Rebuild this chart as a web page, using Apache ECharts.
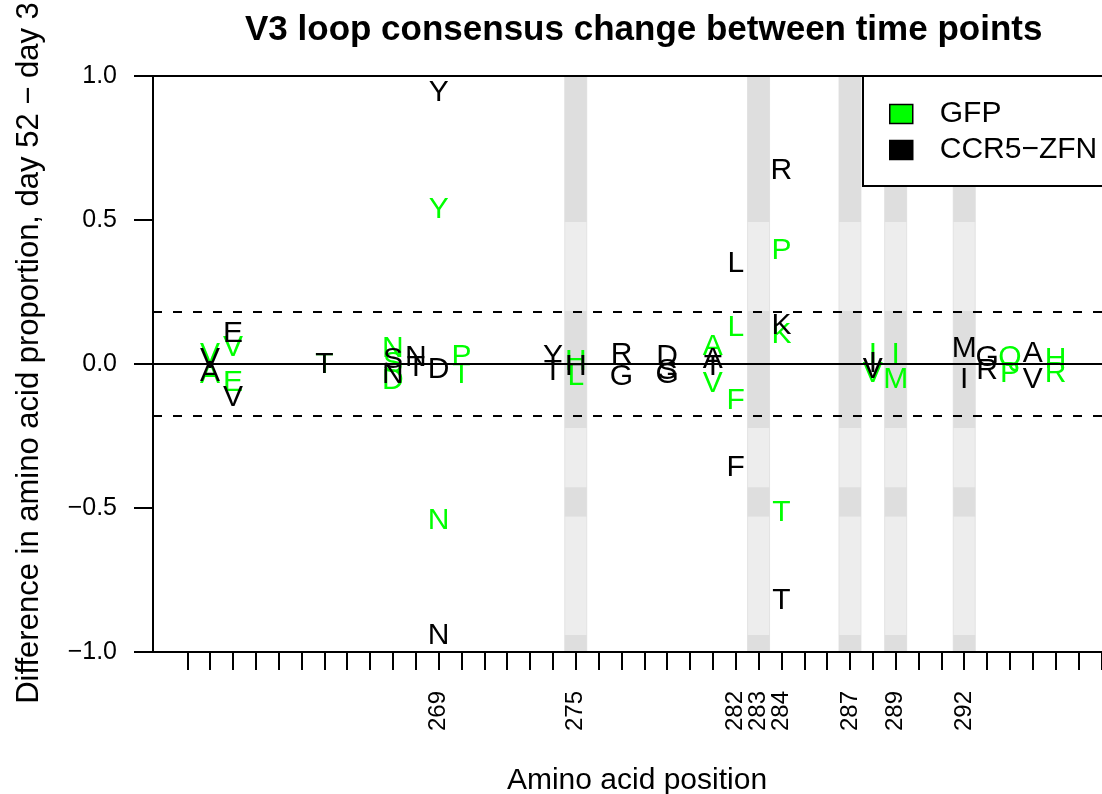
<!DOCTYPE html>
<html><head><meta charset="utf-8">
<script src="https://cdn.jsdelivr.net/npm/echarts@6/dist/echarts.min.js"></script>
<style>html,body{margin:0;padding:0;background:#fff}#c{width:1102px;height:794px}</style>
</head><body><div id="c"></div>
<script>
const FONT = '"Liberation Sans", Arial, Helvetica, sans-serif';

// ---- data ----
const gfpPos = [259, 259, 260, 260, 264, 267, 267, 267, 269, 269, 270, 270, 275, 275, 281, 281, 282, 282, 284, 284, 284, 288, 288, 289, 289, 294, 294, 296, 296];
const gfpVal = [0.035, -0.035, 0.06, -0.062, 0, 0.055, 0.005, -0.055, 0.54, -0.54, 0.03, -0.035, 0.012, -0.04, 0.065, -0.065, 0.128, -0.125, 0.396, 0.105, -0.513, 0.035, -0.03, 0.035, -0.05, 0.025, -0.03, 0.02, -0.03];
const gfpAA  = ['V','A','V','E','T','N','S','D','Y','N','P','T','H','L','A','V','L','F','P','K','T','I','V','I','M','Q','P','H','R'];

const ccrPos = [259, 259, 260, 260, 264, 267, 267, 268, 268, 269, 269, 269, 274, 274, 275, 277, 277, 279, 279, 279, 281, 281, 282, 282, 284, 284, 284, 288, 288, 292, 292, 293, 293, 295, 295];
const ccrVal = [0.02, -0.028, 0.107, -0.115, 0, 0.02, -0.035, 0.025, -0.01, 0.944, -0.94, -0.015, 0.03, -0.025, -0.005, 0.035, -0.04, 0.03, -0.02, -0.035, 0.02, -0.005, 0.35, -0.357, 0.674, 0.135, -0.82, 0.005, -0.015, 0.055, -0.05, 0.025, -0.02, 0.04, -0.05];
const ccrAA  = ['V','A','E','V','T','S','N','N','T','Y','N','D','Y','T','H','R','G','D','S','G','A','T','L','F','R','K','T','I','V','M','I','G','R','A','V'];

const bandPos = [275, 283, 287, 289, 292];
const darkLo = [0.493, -0.222, -0.53, -1.0];
const darkHi = [1.0, 0.184, -0.428, -0.941];

const threshold = 0.176;

const tickPositions = [258,259,260,261,262,263,264,265,266,267,268,269,270,271,272,273,274,275,276,277,278,279,280,281,282,283,284,285,286,287,288,289,290,291,292,293,294,295,296,297,298];
const labelPositions = [269, 275, 282, 283, 284, 287, 289, 292];
const yTicks = [-1.0, -0.5, 0.0, 0.5, 1.0];

// ---- build ----
const bandData = [];
bandPos.forEach(p => bandData.push([p, -1, 1, 0]));
bandPos.forEach(p => darkLo.forEach((lo, j) => bandData.push([p, lo, darkHi[j], 1])));

function letterSeries(name, pos, val, aa, color, z) {
  return {
    type: 'custom', name, z, coordinateSystem: 'cartesian2d', clip: false, silent: true,
    itemStyle: { color },
    data: pos.map((p, i) => [p, val[i]]),
    encode: { x: 0, y: 1 },
    renderItem(params, api) {
      const c = api.coord([api.value(0), api.value(1)]);
      return {
        type: 'text', x: c[0], y: c[1] + 1,
        style: { text: aa[params.dataIndex], fill: color, fontSize: 30, fontFamily: FONT,
                 align: 'center', verticalAlign: 'middle' }
      };
    }
  };
}

const chart = echarts.init(document.getElementById('c'), null, { renderer: 'canvas' });
chart.setOption({
  animation: false,
  backgroundColor: '#fff',
  title: {
    text: 'V3 loop consensus change between time points',
    left: 245, top: 13, padding: 0,
    textStyle: { fontFamily: FONT, fontWeight: 'bold', fontSize: 35, color: '#000' }
  },
  legend: {
    orient: 'vertical', left: 863, top: 76,
    padding: [23, 80, 21, 26], itemGap: 6, itemWidth: 23, itemHeight: 19,
    borderColor: '#000', borderWidth: 2, backgroundColor: '#fff',
    selectedMode: false,
    textStyle: { fontFamily: FONT, fontSize: 30, color: '#000', padding: [0, 0, 0, 22] },
    data: [
      { name: 'GFP', icon: 'rect', itemStyle: { color: '#00ff00', borderColor: '#000', borderWidth: 1.5 } },
      { name: 'CCR5\u2212ZFN', icon: 'rect', itemStyle: { color: '#000', borderColor: '#000', borderWidth: 1.5 } }
    ]
  },
  grid: { left: 153, top: 76, width: 968, height: 576, containLabel: false, outerBoundsMode: 'none' },
  xAxis: [{
    type: 'value', position: 'bottom', min: 256.5, max: 298.86, z: 10,
    name: 'Amino acid position', nameLocation: 'middle', nameGap: 114,
    nameTextStyle: { fontFamily: FONT, fontSize: 30, color: '#000' },
    axisLine: { show: true, onZero: false, lineStyle: { color: '#000', width: 2 } },
    axisTick: { show: true, length: 18, customValues: tickPositions, lineStyle: { color: '#000', width: 2 } },
    axisLabel: { show: true, rotate: 90, margin: 39, customValues: labelPositions,
                 fontFamily: FONT, fontSize: 24, color: '#000' },
    splitLine: { show: false }
  }, {
    type: 'value', position: 'top', min: 256.5, max: 298.86, z: 10,
    axisLine: { show: true, onZero: false, lineStyle: { color: '#000', width: 2 } },
    axisTick: { show: false }, axisLabel: { show: false }, splitLine: { show: false }
  }],
  yAxis: {
    type: 'value', min: -1, max: 1, interval: 0.5, z: 10,
    name: 'Difference in amino acid proportion, day 52 \u2212 day 3',
    nameLocation: 'middle', nameGap: 108, nameRotate: 90,
    nameTextStyle: { fontFamily: FONT, fontSize: 31, color: '#000', padding: [0, 0, 0, 22] },
    axisLine: { show: true, onZero: false, lineStyle: { color: '#000', width: 2 } },
    axisTick: { show: true, length: 19, customValues: yTicks, lineStyle: { color: '#000', width: 2 } },
    axisLabel: { margin: 36, fontFamily: FONT, fontSize: 25, color: '#000', customValues: yTicks,
                 formatter: v => (v < 0 ? '\u2212' : '') + Math.abs(v).toFixed(1) },
    splitLine: { show: false }
  },
  series: [
    {
      type: 'custom', name: 'bands', z: 1, silent: true, coordinateSystem: 'cartesian2d',
      data: bandData, encode: { x: 0, y: [1, 2] },
      renderItem(params, api) {
        const lo = api.coord([api.value(0) - 0.48, api.value(1)]);
        const hi = api.coord([api.value(0) + 0.48, api.value(2)]);
        const dark = api.value(3) === 1;
        return {
          type: 'rect',
          shape: { x: lo[0], y: hi[1], width: hi[0] - lo[0], height: lo[1] - hi[1] },
          style: dark ? { fill: '#dedede' } : { fill: '#ededed', stroke: '#e3e3e3', lineWidth: 1 }
        };
      }
    },
    {
      type: 'line', name: 'guides', z: 3, data: [], silent: true,
      markLine: {
        silent: true, symbol: ['none', 'none'], label: { show: false },
        data: [
          { yAxis: 0, lineStyle: { type: 'solid', color: '#000', width: 2 } },
          { yAxis: threshold, lineStyle: { type: [9, 11], color: '#000', width: 2 } },
          { yAxis: -threshold, lineStyle: { type: [9, 11], color: '#000', width: 2 } }
        ]
      }
    },
    letterSeries('GFP', gfpPos, gfpVal, gfpAA, '#00ff00', 4),
    letterSeries('CCR5\u2212ZFN', ccrPos, ccrVal, ccrAA, '#000000', 5)
  ]
});
</script></body></html>
